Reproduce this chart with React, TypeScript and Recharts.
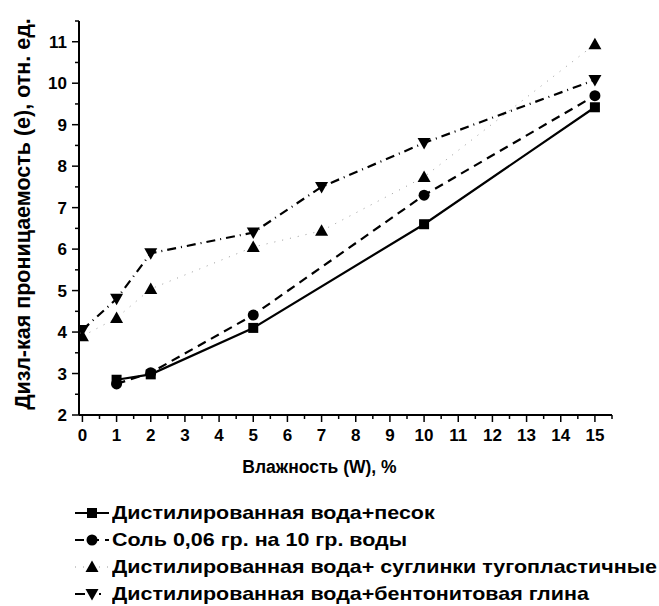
import React from "react";
import { LineChart, Line, XAxis, YAxis, Legend } from "recharts";

// Влажность, % (по каждой серии свои точки)
const xSand = [1, 2, 5, 10, 15];
const ySand = [2.85, 2.98, 4.1, 6.6, 9.42];

const xSalt = [1, 2, 5, 10, 15];
const ySalt = [2.75, 3.02, 4.41, 7.3, 9.7];

const xLoam = [0, 1, 2, 5, 7, 10, 15];
const yLoam = [3.9, 4.34, 5.04, 6.05, 6.44, 7.74, 10.94];

const xBent = [0, 1, 2, 5, 7, 10, 15];
const yBent = [4.05, 4.8, 5.9, 6.4, 7.5, 8.56, 10.08];

const seriesNames = [
  "Дистилированная вода+песок",
  "Соль 0,06 гр. на 10 гр. воды",
  "Дистилированная вода+ суглинки тугопластичные",
  "Дистилированная вода+бентонитовая глина",
];

// major ticks on integers, minor on halves
const xTicks = [0, 0.5, 1, 1.5, 2, 2.5, 3, 3.5, 4, 4.5, 5, 5.5, 6, 6.5, 7, 7.5, 8, 8.5, 9, 9.5, 10, 10.5, 11, 11.5, 12, 12.5, 13, 13.5, 14, 14.5, 15, 15.5];
const yTicks = [2, 2.5, 3, 3.5, 4, 4.5, 5, 5.5, 6, 6.5, 7, 7.5, 8, 8.5, 9, 9.5, 10, 10.5, 11, 11.5];

const toPoints = (xs: number[], ys: number[]) => xs.map((x, i) => ({ x, y: ys[i] }));

const FONT = "'Liberation Sans', Arial, sans-serif";

type Marker = "square" | "circle" | "up" | "down";

const MarkerShape = ({ cx, cy, kind }: { cx: number; cy: number; kind: Marker }) => {
  if (kind === "square") return <rect x={cx - 5} y={cy - 5} width={10} height={10} fill="#000" />;
  if (kind === "circle") return <circle cx={cx} cy={cy} r={5.5} fill="#000" />;
  if (kind === "up")
    return <polygon points={`${cx},${cy - 6.5} ${cx + 6.5},${cy + 5} ${cx - 6.5},${cy + 5}`} fill="#000" />;
  return <polygon points={`${cx},${cy + 6.5} ${cx + 6.5},${cy - 5} ${cx - 6.5},${cy - 5}`} fill="#000" />;
};

const series = [
  { name: seriesNames[0], data: toPoints(xSand, ySand), marker: "square" as Marker, stroke: "#000", width: 2.2, dash: undefined as string | undefined, legendDash: undefined as string | undefined },
  { name: seriesNames[1], data: toPoints(xSalt, ySalt), marker: "circle" as Marker, stroke: "#000", width: 2.2, dash: "9 6", legendDash: "9 6" },
  { name: seriesNames[2], data: toPoints(xLoam, yLoam), marker: "up" as Marker, stroke: "#9a9a9a", width: 1, dash: "1 7", legendDash: "1 7" },
  { name: seriesNames[3], data: toPoints(xBent, yBent), marker: "down" as Marker, stroke: "#000", width: 2.2, dash: "9 5 1 5", legendDash: "10 14 2 10" },
];

const XTick = (props: any) => {
  const { x, y, payload } = props;
  const major = Number.isInteger(payload.value);
  return (
    <g>
      <line x1={x} x2={x} y1={y} y2={y + (major ? 7 : 4)} stroke="#000" strokeWidth={1.5} />
      {major && (
        <text x={x} y={y + 26} textAnchor="middle" fontFamily={FONT} fontWeight={700} fontSize={17} fill="#000">
          {payload.value}
        </text>
      )}
    </g>
  );
};

const YTick = (props: any) => {
  const { x, y, payload } = props;
  const major = Number.isInteger(payload.value);
  return (
    <g>
      <line x1={x} x2={x - (major ? 7 : 4)} y1={y} y2={y} stroke="#000" strokeWidth={1.5} />
      {major && (
        <text x={x - 12} y={y} dy="0.36em" textAnchor="end" fontFamily={FONT} fontWeight={700} fontSize={17} fill="#000">
          {payload.value}
        </text>
      )}
    </g>
  );
};

const YLabel = (props: any) => {
  const { viewBox } = props;
  const cx = 23;
  const cy = viewBox.y + viewBox.height / 2 - 4;
  return (
    <text
      x={cx}
      y={cy}
      transform={`rotate(-90 ${cx} ${cy})`}
      textAnchor="middle"
      dominantBaseline="central"
      fontFamily={FONT}
      fontWeight={700}
      fontSize={21.5}
      fill="#000"
    >
      Дизл-кая проницаемость (е), отн. ед.
    </text>
  );
};

const XLabel = (props: any) => {
  const { viewBox } = props;
  const cx = viewBox.x + viewBox.width / 2 - 26;
  const cy = viewBox.y + viewBox.height + 22;
  return (
    <text x={cx} y={cy} textAnchor="middle" dominantBaseline="central" fontFamily={FONT} fontWeight={700} fontSize={17.5} fill="#000">
      Влажность (W), %
    </text>
  );
};

const renderLegend = () => (
  <div style={{ fontFamily: FONT, fontWeight: 700, fontSize: 19, color: "#000" }}>
    {series.map((s) => (
      <div key={s.name} style={{ display: "flex", alignItems: "center", height: 27, whiteSpace: "nowrap" }}>
        <svg width={36} height={16} style={{ marginRight: 2, flex: "none" }}>
          <line x1={1} x2={35} y1={8} y2={8} stroke={s.stroke} strokeWidth={s.width} strokeDasharray={s.legendDash} />
          <MarkerShape cx={18} cy={8} kind={s.marker} />
        </svg>
        <span style={{ display: "inline-block", transform: "scaleX(1.13)", transformOrigin: "left center" }}>{s.name}</span>
      </div>
    ))}
  </div>
);

export default function App() {
  return (
    <div style={{ position: "absolute", left: 0, top: 0, width: 659, height: 606, background: "#fff" }}>
      <LineChart width={659} height={606} margin={{ top: 21, right: 47, bottom: 161, left: 0 }}>
        <XAxis
          type="number"
          dataKey="x"
          domain={[-0.1, 15.5]}
          ticks={xTicks}
          interval={0}
          allowDataOverflow
          tickSize={0}
          tickMargin={0}
          tick={<XTick />}
          axisLine={{ stroke: "#000", strokeWidth: 2 }}
          tickLine={false}
          height={30}
          label={<XLabel />}
        />
        <YAxis
          type="number"
          domain={[2, 11.5]}
          ticks={yTicks}
          interval={0}
          allowDataOverflow
          tickSize={0}
          tickMargin={0}
          tick={<YTick />}
          axisLine={{ stroke: "#000", strokeWidth: 2 }}
          tickLine={false}
          width={79}
          label={<YLabel />}
        />
        {series.map((s) => (
          <Line
            key={s.name}
            data={s.data}
            dataKey="y"
            name={s.name}
            type="linear"
            stroke={s.stroke}
            strokeWidth={s.width}
            strokeDasharray={s.dash}
            isAnimationActive={false}
            dot={(p: any) => <MarkerShape key={`${s.name}-${p.index}`} cx={p.cx} cy={p.cy} kind={s.marker} />}
            activeDot={false}
          />
        ))}
        <Legend
          layout="vertical"
          align="center"
          verticalAlign="middle"
          content={renderLegend}
          wrapperStyle={{ left: 74, top: 499.5, width: 585 }}
        />
      </LineChart>
    </div>
  );
}
